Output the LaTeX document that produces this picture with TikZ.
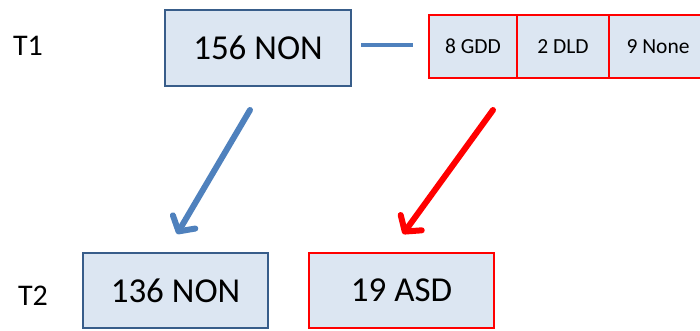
\documentclass[tikz,border=0pt]{standalone}
\usepackage{fontspec}
\setmainfont{Carlito}
\usetikzlibrary{arrows.meta}
\definecolor{boxfill}{HTML}{DCE6F2}
\definecolor{boxblue}{HTML}{385D8A}
\definecolor{lineblue}{HTML}{4F81BD}
\definecolor{pptred}{HTML}{FF0000}
\tikzset{
  bluebox/.style={draw=boxblue, fill=boxfill, line width=2pt, inner sep=0pt, font=\fontsize{35}{40}\selectfont},
  redbox/.style={draw=pptred, fill=boxfill, line width=2pt, inner sep=0pt, font=\fontsize{35}{40}\selectfont},
  cellbox/.style={draw=pptred, fill=boxfill, line width=2pt, inner sep=0pt, minimum height=63pt, font=\fontsize{21.5}{24}\selectfont},
  rowlabel/.style={inner sep=0pt, font=\fontsize{30}{34}\selectfont},
  bigarrow/.style={line width=6pt, line cap=round, -{Straight Barb[length=11pt,width=26pt,round]}}
}
\begin{document}
\begin{tikzpicture}[x=1pt,y=-1pt]
\useasboundingbox (0,0) rectangle (700,331);
\begin{scope}
\clip (0,0) rectangle (700,331);
\node[rowlabel] (t1) at (28,46) {T1};
\node[rowlabel] (t2) at (33,296) {T2};
\node[bluebox, minimum width=186pt, minimum height=76pt] (non1) at (258,48) {156 NON};
\node[cellbox, minimum width=88pt] (gdd) at (473,46.5) {8 GDD};
\node[cellbox, minimum width=92pt] (dld) at (563,46.5) {2 DLD};
\node[cellbox, minimum width=98pt] (none) at (658,46.5) {9 None};
\node[bluebox, minimum width=185pt, minimum height=75pt] (non2) at (175.5,290.5) {136 NON};
\node[redbox, minimum width=185pt, minimum height=75pt] (asd) at (401.5,290.5) {19 ASD};
\draw[lineblue, line width=4pt, shorten <=9pt, shorten >=15pt] (non1.east |- 0,45) -- (gdd.west |- 0,45);
\coordinate (bs) at (250,110);
\coordinate (be) at (177,234);
\coordinate (rs) at (493,110);
\coordinate (re) at (403,234);
\draw[bigarrow, lineblue] (bs) -- (be);
\draw[bigarrow, pptred] (rs) -- (re);
\end{scope}
\end{tikzpicture}
\end{document}
